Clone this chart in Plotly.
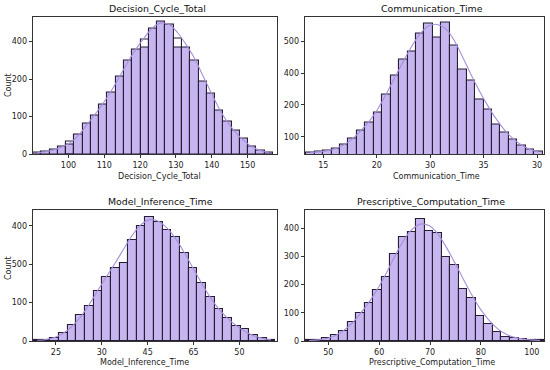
import plotly.graph_objects as go

# ---------------- data ----------------
# Decision_Cycle_Total
dct_start, dct_width = 90.1, 2.31
dct_counts = [4.5, 6, 11, 20, 26, 53, 82, 104, 133, 164, 207, 249, 280, 284, 336,
              354, 345, 284, 284, 249, 193, 162, 115, 88, 64, 42, 21, 9, 4]
dct_ghost = {4: 33, 13: 305, 17: 309}
dct_kde = [3, 6, 11, 19, 30, 50, 78, 106, 136, 170, 208, 247, 282, 312, 338,
           350, 345, 323, 292, 256, 210, 165, 121, 85, 57, 35, 19, 9, 4]
dct_xticks = [100, 110, 120, 130, 140, 150]
dct_xtext = ["100", "110", "120", "130", "140", "150"]
dct_yticks = [0, 100, 200, 300]
dct_ytext = ["0", "100", "200", "400"]

# Communication_Time
com_start, com_width = 13.4, 0.79
com_counts = [50, 52, 56, 63, 76, 95, 118, 144, 177, 232, 292, 342, 368, 426,
              458, 413, 461, 386, 313, 276, 218, 186, 140, 114, 92, 71, 61, 53]
com_ghost = {}
com_kde = [50, 52, 56, 63, 75, 94, 120, 150, 188, 236, 287, 337, 385, 425,
           449, 454, 441, 405, 353, 297, 245, 198, 156, 121, 94, 74, 60, 52]
com_xticks = [15, 20, 25, 30, 35]
com_xtext = ["15", "20", "30", "35", "30"]
com_yticks = [100, 200, 300, 400]
com_ytext = ["100", "200", "400", "500"]

# Model_Inference_Time
mit_start, mit_width = 22.5, 0.943
mit_counts = [2, 3, 9, 22, 41, 67, 91, 130, 167, 189, 204, 263, 300, 322,
              310, 290, 270, 228, 190, 152, 114, 83, 61, 39, 30, 15, 8, 3]
mit_ghost = {}
mit_kde = [2, 4, 9, 20, 38, 63, 95, 132, 168, 203, 240, 276, 303, 316,
           312, 294, 266, 230, 190, 150, 113, 83, 59, 40, 25, 14, 7, 3]
mit_xticks = [25, 30, 35, 40, 45]
mit_xtext = ["25", "30", "45", "65", "50"]
mit_yticks = [0, 100, 200, 300]
mit_ytext = ["0", "100", "500", "400"]

# Prescriptive_Computation_Time
pct_start, pct_width = 45.42, 1.679
pct_counts = [2, 4, 9, 21, 37, 66, 100, 135, 180, 228, 310, 370, 388, 433,
              390, 385, 298, 270, 185, 152, 90, 60, 33, 14, 9, 7, 3, 2]
pct_ghost = {}
pct_kde = [2, 4, 9, 19, 37, 63, 98, 138, 185, 240, 300, 355, 395, 415,
           410, 382, 335, 280, 222, 165, 115, 75, 45, 25, 13, 7, 4, 2]
pct_xticks = [50, 60, 70, 80, 90]
pct_xtext = ["50", "60", "70", "80", "100"]
pct_yticks = [0, 100, 200, 300, 400]
pct_ytext = ["0", "100", "200", "300", "400"]

# ---------------- styling ----------------
FILL = "#c7b5ef"
EDGE = "#271e35"
KDE = "#a690dc"
AX = "#333333"
FONT = "DejaVu Sans"
TXT = "#222222"

panels = [
    dict(name="Decision_Cycle_Total", start=dct_start, width=dct_width, counts=dct_counts,
         ghost=dct_ghost, kde=dct_kde, xt=dct_xticks, xtt=dct_xtext, yt=dct_yticks, ytt=dct_ytext,
         xr=[90.1, 158.2], yr=[0, 367], px=(33, 277), py=(16.5, 154),
         title_xy=(157, 8), label_xy=(159, 176.5), count_y=85),
    dict(name="Communication_Time", start=com_start, width=com_width, counts=com_counts,
         ghost=com_ghost, kde=com_kde, xt=com_xticks, xtt=com_xtext, yt=com_yticks, ytt=com_ytext,
         xr=[13.29, 35.65], yr=[45.4, 479], px=(305, 544), py=(16.5, 154),
         title_xy=(431.5, 8), label_xy=(436, 176.5), count_y=None),
    dict(name="Model_Inference_Time", start=mit_start, width=mit_width, counts=mit_counts,
         ghost=mit_ghost, kde=mit_kde, xt=mit_xticks, xtt=mit_xtext, yt=mit_yticks, ytt=mit_ytext,
         xr=[22.5, 49.1], yr=[0, 341], px=(33, 277), py=(210, 341),
         title_xy=(160, 201), label_xy=(144, 362.5), count_y=268),
    dict(name="Prescriptive_Computation_Time", start=pct_start, width=pct_width, counts=pct_counts,
         ghost=pct_ghost, kde=pct_kde, xt=pct_xticks, xtt=pct_xtext, yt=pct_yticks, ytt=pct_ytext,
         xr=[45.42, 92.4], yr=[0, 465], px=(305, 544), py=(210, 341),
         title_xy=(431, 201), label_xy=(432, 362.5), count_y=None),
]
W, H = 550, 370

fig = go.Figure()
annotations = []
layout = {}
for i, p in enumerate(panels, start=1):
    sfx = "" if i == 1 else str(i)
    xa, ya = "x" + sfx, "y" + sfx
    x0, x1 = p["px"]
    y0, y1 = p["py"]
    centers = [p["start"] + p["width"] * (k + 0.5) for k in range(len(p["counts"]))]
    fig.add_trace(go.Bar(x=centers, y=p["counts"], width=p["width"], xaxis=xa, yaxis=ya,
                         marker=dict(color=FILL, line=dict(color=EDGE, width=1.1)),
                         showlegend=False, hoverinfo="skip"))
    if p["ghost"]:
        gx = [centers[k] for k in p["ghost"]]
        gy = list(p["ghost"].values())
        fig.add_trace(go.Bar(x=gx, y=gy, width=p["width"], xaxis=xa, yaxis=ya,
                             marker=dict(color="rgba(0,0,0,0)", line=dict(color=EDGE, width=1.1)),
                             showlegend=False, hoverinfo="skip"))
    fig.add_trace(go.Scatter(x=centers, y=p["kde"], mode="lines", xaxis=xa, yaxis=ya,
                             line=dict(color=KDE, width=1.1, shape="spline"),
                             showlegend=False, hoverinfo="skip"))
    axcommon = dict(showline=True, mirror=True, linecolor=AX, linewidth=0.8,
                    ticks="outside", ticklen=3.5, tickwidth=0.8, tickcolor=AX,
                    showgrid=False, zeroline=False, automargin=False, tickmode="array",
                    tickfont=dict(family=FONT, size=8, color=TXT))
    layout["xaxis" + sfx] = dict(domain=[x0 / W, x1 / W], anchor=ya, range=p["xr"],
                                 tickvals=p["xt"], ticktext=p["xtt"], **axcommon)
    layout["yaxis" + sfx] = dict(domain=[1 - y1 / H, 1 - y0 / H], anchor=xa, range=p["yr"],
                                 tickvals=p["yt"], ticktext=p["ytt"], **axcommon)
    tx, ty = p["title_xy"]
    annotations.append(dict(text=p["name"], x=tx / W, y=1 - ty / H,
                            xref="paper", yref="paper", xanchor="center", yanchor="middle",
                            showarrow=False, font=dict(family=FONT, size=9.4, color="#111111")))
    lx, ly = p["label_xy"]
    annotations.append(dict(text=p["name"], x=lx / W, y=1 - ly / H,
                            xref="paper", yref="paper", xanchor="center", yanchor="middle",
                            showarrow=False, font=dict(family=FONT, size=8, color=TXT)))
    if p["count_y"] is not None:
        annotations.append(dict(text="Count", x=8 / W, y=1 - p["count_y"] / H, textangle=-90,
                                xref="paper", yref="paper", xanchor="center", yanchor="middle",
                                showarrow=False, font=dict(family=FONT, size=8, color=TXT)))

fig.update_layout(**layout)
fig.update_layout(width=W, height=H, margin=dict(l=0, r=0, t=0, b=0),
                  paper_bgcolor="white", plot_bgcolor="white", bargap=0,
                  barmode="overlay", annotations=annotations,
                  font=dict(family=FONT))
fig.write_html("out.html", config={"displayModeBar": False},
               post_script="document.body.style.margin='0px';document.body.style.overflow='hidden';")
